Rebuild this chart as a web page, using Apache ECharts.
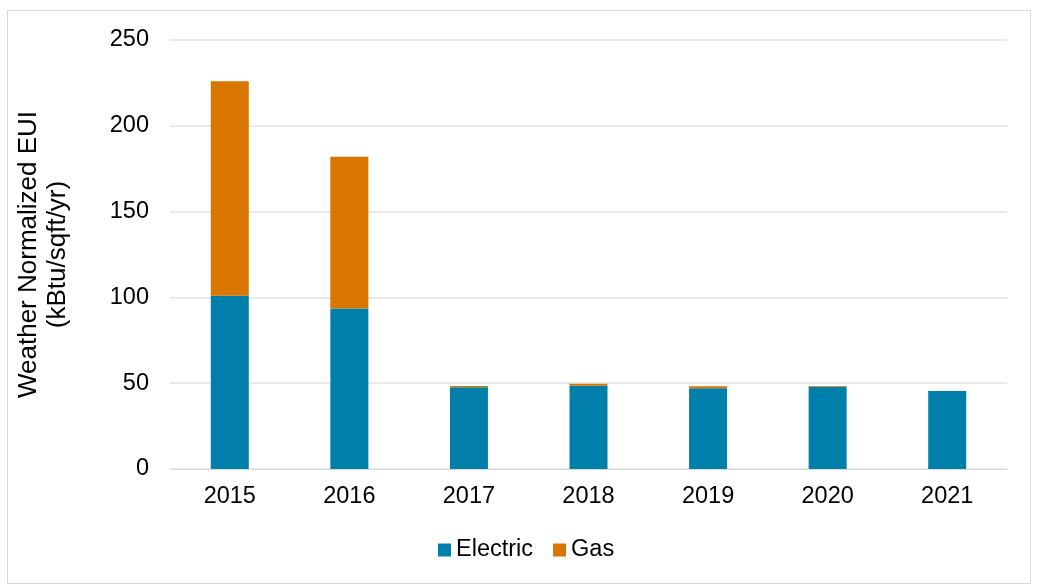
<!DOCTYPE html>
<html>
<head>
<meta charset="utf-8">
<script src="https://cdn.jsdelivr.net/npm/echarts@6/dist/echarts.min.js"></script>
<style>
  html, body { margin: 0; padding: 0; background: #fff; }
  #frame { position: absolute; left: 7px; top: 10px; width: 1022px; height: 572px; border: 1px solid #d9d9d9; }
  #chart { position: absolute; left: 0; top: 0; width: 1037px; height: 587px; }
</style>
</head>
<body>
<div id="frame"></div>
<div id="chart"></div>
<script>
  // values
  var years = ['2015', '2016', '2017', '2018', '2019', '2020', '2021'];
  var electric = [101, 93.5, 47.6, 48.5, 47, 48, 45.5];
  var gas = [125, 88.5, 0.8, 1.2, 1.2, 0.3, 0];
  var yTicks = { min: 0, max: 250, interval: 50 };

  var font = 'Liberation Sans, Arial, sans-serif';
  var chart = echarts.init(document.getElementById('chart'));

  var option = {
    animation: false,
    color: ['#007fab', '#d97600'],
    grid: { left: 170, right: 30, top: 40, bottom: 118, containLabel: false, outerBoundsMode: 'none' },
    legend: {
      data: ['Electric', 'Gas'],
      top: 533,
      left: 433,
      itemWidth: 13,
      itemHeight: 13,
      itemGap: 20,
      icon: 'rect',
      textStyle: { fontFamily: font, fontSize: 23.5, color: '#000' }
    },
    xAxis: {
      type: 'category',
      data: years,
      axisLine: { lineStyle: { color: '#d9d9d9' } },
      axisTick: { show: false },
      axisLabel: { fontFamily: font, fontSize: 23.5, color: '#000', margin: 16 }
    },
    yAxis: {
      type: 'value',
      min: yTicks.min,
      max: yTicks.max,
      interval: yTicks.interval,
      name: 'Weather Normalized EUI\n(kBtu/sqft/yr)',
      nameLocation: 'middle',
      nameGap: 98,
      nameTextStyle: { fontFamily: font, fontSize: 26, color: '#000', lineHeight: 29 },
      axisLine: { show: false },
      axisTick: { show: false },
      axisLabel: { fontFamily: font, fontSize: 23.5, color: '#000', margin: 21 },
      splitLine: { lineStyle: { color: '#e3e3e3', width: 1.5 } }
    },
    series: [
      { name: 'Electric', type: 'bar', stack: 'eui', barWidth: 38, data: electric },
      { name: 'Gas', type: 'bar', stack: 'eui', barWidth: 38, data: gas }
    ]
  };

  chart.setOption(option);
</script>
</body>
</html>
